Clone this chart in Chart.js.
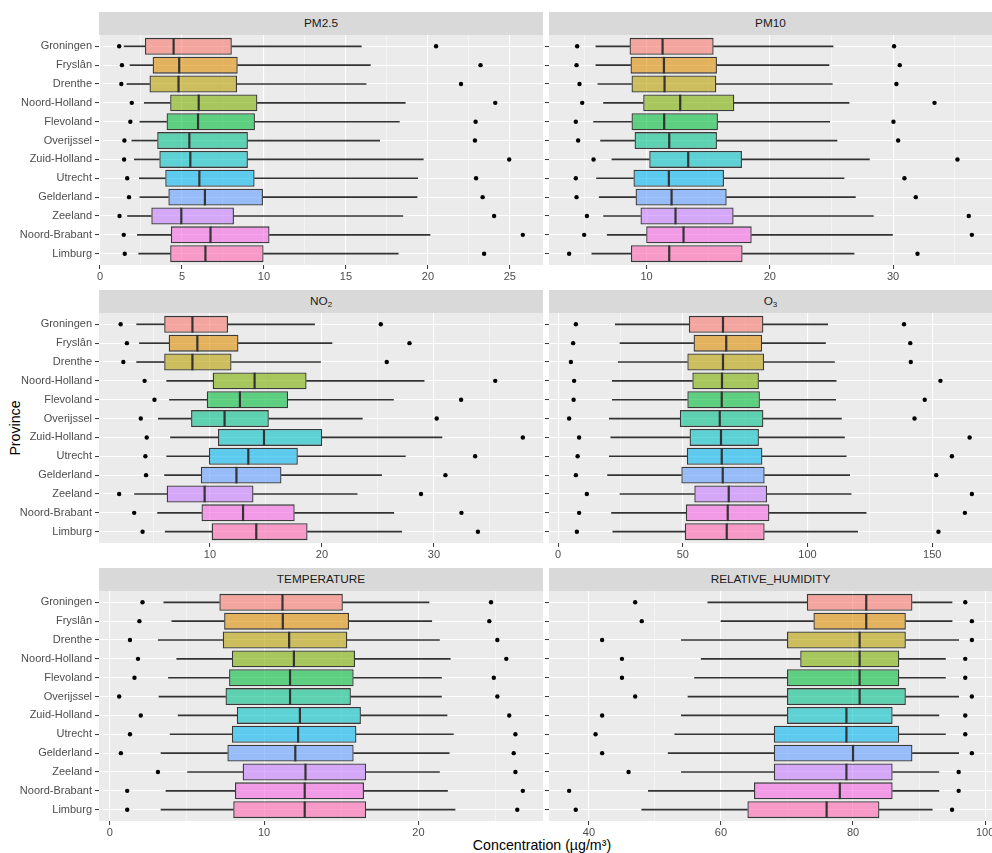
<!DOCTYPE html>
<html>
<head>
<meta charset="utf-8">
<script src="https://cdn.jsdelivr.net/npm/chart.js@4.4.0/dist/chart.umd.min.js"></script>
<style>
  body { margin: 0; background: #fff; font-family: 'Liberation Sans', Arial, sans-serif; }
  #page { position: relative; width: 992px; height: 853px; overflow: hidden; }
  canvas { position: absolute; }
  .strip { position: absolute; height: 23px; line-height: 23px; background: #d9d9d9; color: #1a1a1a; font-size: 11.8px; text-align: center; }
  .strip sub { font-size: 8px; line-height: 0; vertical-align: -2px; }
  .axis-title { position: absolute; color: #000; font-size: 14.2px; white-space: nowrap; }
</style>
</head>
<body>
<div id="page">
  <div class="axis-title" style="left:15px; top:428px; transform: translate(-50%, -50%) rotate(-90deg);">Province</div>
  <div class="axis-title" style="left:542px; top:845px; transform: translate(-50%, -50%);">Concentration (µg/m³)</div>
</div>
<script>
// provinces, top to bottom
const provinces = ['Groningen', 'Fryslân', 'Drenthe', 'Noord-Holland', 'Flevoland', 'Overijssel',
  'Zuid-Holland', 'Utrecht', 'Gelderland', 'Zeeland', 'Noord-Brabant', 'Limburg'];

// ggplot hue palette for the 12 provinces
const boxColors = ['#F8766D', '#DE8C00', '#B79F00', '#7CAE00', '#00BA38', '#00C08B',
  '#00BFC4', '#00B4F0', '#619CFF', '#C77CFF', '#F564E3', '#FF64B0'];

// PM2.5
const pm25Low   = [1.17, 1.34, 1.30, 1.94, 1.85, 1.49, 1.47, 1.66, 1.77, 1.19, 1.45, 1.51];
const pm25WhLo  = [1.47, 1.83, 1.64, 2.70, 2.43, 1.94, 2.09, 2.40, 2.43, 1.68, 2.28, 2.36];
const pm25Q1    = [2.74, 3.21, 3.02, 4.28, 4.06, 3.49, 3.62, 3.98, 4.17, 3.13, 4.32, 4.28];
const pm25Med   = [4.49, 4.83, 4.79, 6.02, 5.98, 5.45, 5.51, 6.06, 6.40, 4.96, 6.74, 6.43];
const pm25Q3    = [8.04, 8.40, 8.36, 9.60, 9.45, 9.02, 9.02, 9.43, 9.94, 8.17, 10.34, 9.98];
const pm25WhHi  = [15.94, 16.49, 16.23, 18.62, 18.26, 17.06, 19.72, 19.38, 19.34, 18.47, 20.13, 18.19];
const pm25High  = [20.50, 23.21, 22.02, 24.11, 22.91, 22.87, 24.96, 22.94, 23.34, 24.04, 25.79, 23.43];

// PM10
const pm10Low   = [4.37, 4.32, 4.56, 4.78, 4.26, 4.45, 5.70, 4.26, 4.32, 5.16, 4.94, 3.72];
const pm10WhLo  = [5.89, 5.89, 6.05, 6.51, 5.70, 6.27, 7.19, 5.94, 6.16, 6.51, 6.81, 5.56];
const pm10Q1    = [8.62, 8.70, 8.78, 9.73, 8.78, 9.03, 10.22, 8.94, 9.11, 9.51, 9.97, 8.73];
const pm10Med   = [11.30, 11.41, 11.46, 12.73, 11.43, 11.84, 13.38, 11.81, 12.03, 12.35, 13.00, 11.84];
const pm10Q3    = [15.44, 15.71, 15.66, 17.12, 15.79, 15.71, 17.74, 16.28, 16.50, 17.06, 18.53, 17.79];
const pm10WhHi  = [25.13, 24.80, 25.07, 26.43, 24.86, 25.45, 28.08, 26.02, 26.94, 28.40, 29.95, 26.83];
const pm10High  = [30.08, 30.54, 30.27, 33.36, 30.03, 30.41, 35.22, 30.92, 31.84, 36.14, 36.39, 31.98];

// NO2
const no2Low    = [2.03, 2.59, 2.27, 4.17, 5.05, 3.83, 4.36, 4.24, 4.30, 1.90, 3.24, 3.99];
const no2WhLo   = [3.46, 3.71, 3.46, 6.14, 6.39, 5.39, 6.48, 6.14, 5.95, 3.27, 5.33, 6.01];
const no2Q1     = [5.92, 6.32, 5.92, 10.25, 9.72, 8.32, 10.72, 9.91, 9.19, 6.14, 9.25, 10.16];
const no2Med    = [8.44, 8.88, 8.44, 13.99, 12.68, 11.31, 14.83, 13.43, 12.37, 9.53, 12.96, 14.14];
const no2Q3     = [11.62, 12.55, 11.93, 18.63, 16.98, 15.26, 20.03, 17.85, 16.39, 13.89, 17.57, 18.72];
const no2WhHi   = [19.35, 20.90, 19.88, 29.13, 26.39, 23.61, 30.72, 27.45, 25.33, 23.15, 26.42, 27.13];
const no2High   = [25.26, 27.82, 25.79, 35.48, 32.43, 30.25, 37.94, 33.68, 31.03, 28.85, 32.46, 33.93];

// O3
const o3Low     = [7.1, 6.0, 5.1, 6.4, 6.2, 4.4, 8.4, 7.8, 7.1, 11.5, 8.4, 7.5];
const o3WhLo    = [22.9, 24.8, 24.1, 21.7, 21.7, 20.5, 21.1, 20.5, 19.8, 24.8, 21.4, 21.9];
const o3Q1      = [52.4, 54.3, 51.8, 53.8, 51.8, 48.8, 52.7, 51.6, 49.4, 54.6, 51.2, 50.8];
const o3Med     = [66.1, 67.4, 66.1, 65.7, 65.6, 64.8, 65.3, 65.6, 66.0, 68.4, 68.0, 67.6];
const o3Q3      = [82.3, 81.8, 82.6, 80.5, 80.9, 82.3, 80.5, 81.9, 82.8, 83.8, 84.7, 82.8];
const o3WhHi    = [108.1, 107.2, 110.8, 111.5, 111.3, 113.6, 114.8, 115.5, 116.9, 117.5, 123.5, 120.1];
const o3High    = [138.7, 141.2, 141.4, 153.3, 147.0, 142.9, 165.0, 157.9, 151.6, 165.9, 163.1, 152.5];

// TEMPERATURE
const tempLow   = [2.12, 1.92, 1.31, 1.83, 1.60, 0.61, 2.01, 1.31, 0.72, 3.12, 1.13, 1.13];
const tempWhLo  = [3.50, 4.02, 3.14, 4.34, 3.80, 3.19, 4.43, 3.91, 3.32, 5.04, 3.64, 3.32];
const tempQ1    = [7.10, 7.41, 7.32, 7.91, 7.73, 7.50, 8.23, 7.91, 7.62, 8.61, 8.11, 8.00];
const tempMed   = [11.19, 11.21, 11.62, 11.93, 11.68, 11.68, 12.32, 12.20, 12.02, 12.68, 12.63, 12.63];
const tempQ3    = [15.10, 15.50, 15.39, 15.89, 15.80, 15.62, 16.27, 15.98, 15.80, 16.61, 16.47, 16.61];
const tempWhHi  = [20.68, 20.86, 21.36, 22.06, 21.49, 21.49, 21.85, 22.26, 21.99, 21.36, 21.88, 22.37];
const tempHigh  = [24.70, 24.59, 25.11, 25.69, 24.88, 25.11, 25.88, 26.28, 26.17, 26.28, 26.76, 26.40];

// RELATIVE_HUMIDITY
const rhLow     = [47, 48, 42, 45, 45, 47, 42, 41, 42, 46, 37, 38];
const rhWhLo    = [58, 60, 54, 57, 56, 55, 54, 53, 52, 54, 49, 48];
const rhQ1      = [73, 74, 70, 72, 70, 70, 70, 68, 68, 68, 65, 64];
const rhMed     = [82, 82, 81, 81, 81, 81, 79, 79, 80, 79, 78, 76];
const rhQ3      = [89, 88, 88, 87, 87, 88, 86, 87, 89, 86, 86, 84];
const rhWhHi    = [95, 95, 96, 94, 94, 96, 93, 94, 96, 93, 93, 92];
const rhHigh    = [97, 98, 98, 97, 97, 98, 97, 97, 98, 96, 96, 95];

// panel titles and major tick steps
const panelTitles = ['PM2.5', 'PM10', 'NO<sub>2</sub>', 'O<sub>3</sub>', 'TEMPERATURE', 'RELATIVE_HUMIDITY'];
const tickSteps = [5, 10, 10, 50, 10, 20];

Chart.defaults.font.family = "'Liberation Sans', Arial, sans-serif";

function hexToRgba(hex, a) {
  const n = parseInt(hex.slice(1), 16);
  return 'rgba(' + (n >> 16) + ',' + ((n >> 8) & 255) + ',' + (n & 255) + ',' + a + ')';
}

// fills the plotting area grey, like theme_gray
const panelBackground = {
  id: 'panelBackground',
  beforeDraw(chart) {
    const a = chart.chartArea;
    const ctx = chart.ctx;
    ctx.save();
    ctx.fillStyle = '#ebebeb';
    ctx.fillRect(a.left, a.top, a.right - a.left, a.bottom - a.top);
    ctx.restore();
  }
};

function drawPanel(index, stats) {
  const [low, whLo, q1, med, q3, whHi, high] = stats;
  const col = index % 2;
  const row = Math.floor(index / 2);
  const step = tickSteps[index];

  const stripTop = 12 + row * 278;
  const left = col === 0 ? 0 : 540;
  const width = col === 0 ? 543 : 452;
  const yWidth = col === 0 ? 99 : 9;

  const page = document.getElementById('page');
  const strip = document.createElement('div');
  strip.className = 'strip';
  strip.style.left = (left + yWidth) + 'px';
  strip.style.top = stripTop + 'px';
  strip.style.width = (width - yWidth) + 'px';
  strip.innerHTML = panelTitles[index];
  page.appendChild(strip);

  const canvas = document.createElement('canvas');
  canvas.width = width;
  canvas.height = 254;
  canvas.style.left = left + 'px';
  canvas.style.top = (stripTop + 23) + 'px';
  page.appendChild(canvas);

  // 5% expansion of the data range like ggplot
  const lo = Math.min(...low);
  const hi = Math.max(...high);
  const xMin = lo - 0.05 * (hi - lo);
  const xMax = hi + 0.05 * (hi - lo);

  const isMinor = c => c.tick && c.tick.minor;

  new Chart(canvas, {
    type: 'bar',
    data: {
      datasets: [
        {
          type: 'scatter',
          data: provinces.map((p, i) => ({ x: med[i], y: i })),
          pointStyle: 'line',
          rotation: 90,
          pointRadius: 8.3,
          borderColor: '#333333',
          borderWidth: 2.2,
          order: 0
        },
        {
          type: 'scatter',
          data: provinces.map((p, i) => ({ x: low[i], y: i }))
            .concat(provinces.map((p, i) => ({ x: high[i], y: i }))),
          pointRadius: 2.2,
          backgroundColor: '#000000',
          borderWidth: 0,
          order: 1
        },
        {
          data: provinces.map((p, i) => ({ x: [q1[i], q3[i]], y: i })),
          backgroundColor: boxColors.map(c => hexToRgba(c, 0.6)),
          borderColor: '#3a3a3a',
          borderWidth: 1.3,
          borderSkipped: false,
          grouped: false,
          barPercentage: 0.9,
          categoryPercentage: 1,
          order: 2
        },
        {
          data: provinces.map((p, i) => ({ x: [whLo[i], q1[i]], y: i })),
          backgroundColor: '#333333',
          borderWidth: 0,
          barThickness: 1,
          grouped: false,
          order: 3
        },
        {
          data: provinces.map((p, i) => ({ x: [q3[i], whHi[i]], y: i })),
          backgroundColor: '#333333',
          borderWidth: 0,
          barThickness: 1,
          grouped: false,
          order: 3
        }
      ]
    },
    options: {
      indexAxis: 'y',
      responsive: false,
      animation: false,
      events: [],
      layout: { padding: 0, autoPadding: false },
      plugins: { legend: { display: false }, tooltip: { enabled: false } },
      scales: {
        x: {
          type: 'linear',
          min: xMin,
          max: xMax,
          bounds: 'data',
          border: { display: false },
          grid: {
            color: c => isMinor(c) ? 'rgba(255,255,255,0.75)' : '#ffffff',
            lineWidth: c => isMinor(c) ? 0.6 : 1.1,
            tickColor: c => isMinor(c) ? 'rgba(0,0,0,0)' : '#333333',
            tickWidth: 1,
            tickLength: 4
          },
          ticks: {
            autoSkip: false,
            maxRotation: 0,
            padding: 1,
            color: '#4d4d4d',
            font: { size: 11 },
            callback: (v, i, t) => t[i].minor ? '' : String(v)
          },
          afterBuildTicks: scale => {
            const half = step / 2;
            const ticks = [];
            for (let k = Math.ceil(xMin / half); k * half <= xMax; k++) {
              ticks.push({ value: k * half, minor: k % 2 !== 0 });
            }
            scale.ticks = ticks;
          },
          afterFit: scale => {
            scale.height = 24;
            scale.paddingLeft = 0;
            scale.paddingRight = 0;
          }
        },
        y: {
          type: 'linear',
          min: -0.6,
          max: 11.6,
          reverse: true,
          offset: false,
          bounds: 'data',
          border: { display: false },
          grid: {
            offset: false,
            color: '#ffffff',
            lineWidth: 1.1,
            tickColor: '#333333',
            tickWidth: 1,
            tickLength: 4
          },
          ticks: {
            autoSkip: false,
            padding: 3,
            color: '#4d4d4d',
            font: { size: 11 },
            callback: v => col === 0 ? provinces[v] : ''
          },
          afterBuildTicks: scale => {
            scale.ticks = provinces.map((p, i) => ({ value: i }));
          },
          afterFit: scale => {
            scale.width = yWidth;
            scale.paddingTop = 0;
            scale.paddingBottom = 0;
          }
        }
      }
    },
    plugins: [panelBackground]
  });
}

drawPanel(0, [pm25Low, pm25WhLo, pm25Q1, pm25Med, pm25Q3, pm25WhHi, pm25High]);
drawPanel(1, [pm10Low, pm10WhLo, pm10Q1, pm10Med, pm10Q3, pm10WhHi, pm10High]);
drawPanel(2, [no2Low, no2WhLo, no2Q1, no2Med, no2Q3, no2WhHi, no2High]);
drawPanel(3, [o3Low, o3WhLo, o3Q1, o3Med, o3Q3, o3WhHi, o3High]);
drawPanel(4, [tempLow, tempWhLo, tempQ1, tempMed, tempQ3, tempWhHi, tempHigh]);
drawPanel(5, [rhLow, rhWhLo, rhQ1, rhMed, rhQ3, rhWhHi, rhHigh]);
</script>
</body>
</html>
